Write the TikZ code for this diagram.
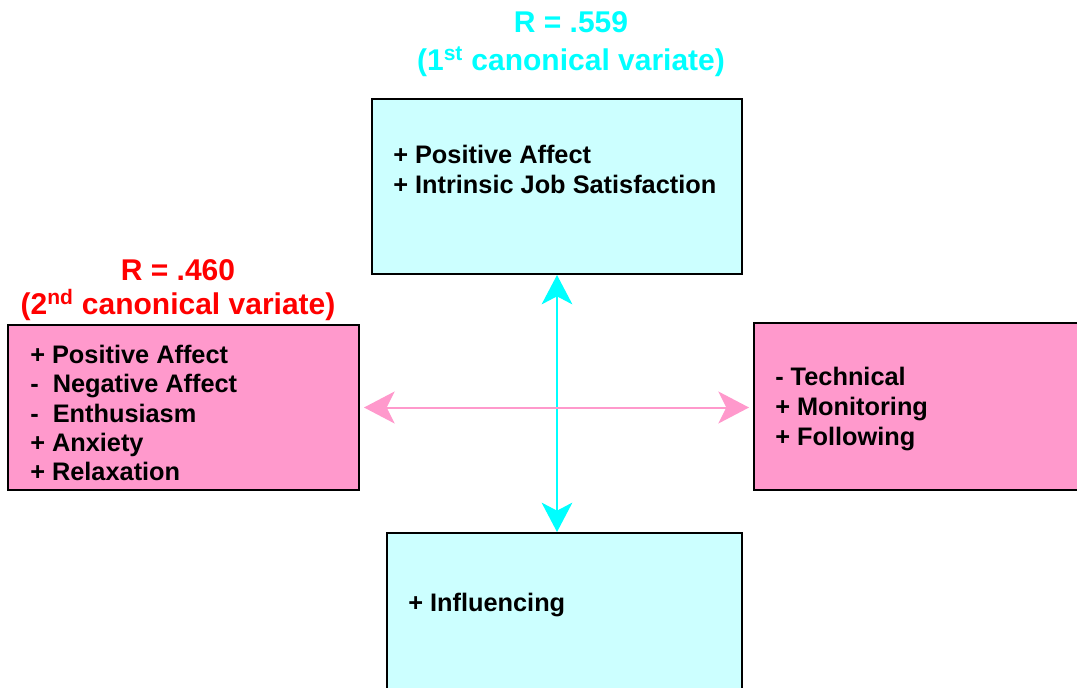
\documentclass[tikz,border=0pt]{standalone}
\usepackage{fontspec}
\setmainfont{Liberation Sans}
\usetikzlibrary{arrows.meta,fit,positioning}

\definecolor{boxcyan}{HTML}{CCFFFF}
\definecolor{boxpink}{HTML}{FF99CC}
\definecolor{titlecyan}{HTML}{00FFFF}
\definecolor{titlered}{HTML}{FF0000}

\tikzset{
    cyanbox/.style={draw=black, line width=1.5pt, fill=boxcyan, inner sep=0pt},
    pinkbox/.style={draw=black, line width=1.5pt, fill=boxpink, inner sep=0pt},
    items/.style={anchor=west, align=left, inner sep=0pt,
        font=\fontsize{19}{22.5}\selectfont\bfseries},
    title/.style={align=center, inner sep=0pt,
        font=\fontsize{22.5}{28}\selectfont\bfseries},
    cyanlink/.style={draw=titlecyan, line width=1.8pt,
        {Stealth[length=22pt, width=23pt, inset=6pt]}-{Stealth[length=22pt, width=23pt, inset=6pt]}},
    pinklink/.style={draw=boxpink, line width=1.5pt,
        {Stealth[length=23pt, width=24pt, inset=6pt]}-{Stealth[length=23pt, width=24pt, inset=6pt]}}
}

\begin{document}
\begin{tikzpicture}[x=0.75pt, y=-0.75pt]
    \useasboundingbox (0, 0) rectangle (1077, 688);
    \clip (0, 0) rectangle (1077, 688);

    % The boxes
    \node[cyanbox, fit={(372, 99) (742, 274)}] (cyanTop) {};
    \node[cyanbox, fit={(387, 533) (742, 720)}] (cyanBottom) {};
    \node[pinkbox, fit={(8, 325) (359, 490)}] (pinkLeft) {};
    \node[pinkbox, fit={(754, 323) (1090, 490)}] (pinkRight) {};

    % The contents of the boxes
    \node[items] (topItems) at (393, 169) {+ Positive Affect\\+ Intrinsic Job Satisfaction};
    \node[items] (bottomItems) at (408, 605) {+ Influencing};
    \node[items, font=\fontsize{19}{22}\selectfont\bfseries] (leftItems) at (30, 413)
        {+ Positive Affect\\-\ \ Negative Affect\\-\ \ Enthusiasm\\+ Anxiety\\+ Relaxation};
    \node[items] (rightItems) at (775, 409) {- Technical\\+ Monitoring\\+ Following};

    % The correlations
    \node[title, text=titlecyan, font=\fontsize{22.5}{29}\selectfont\bfseries] (firstR) at (571, 44)
        {R = .559\\(1\textsuperscript{st} canonical variate)};
    \node[title, text=titlered, font=\fontsize{22.5}{25.5}\selectfont\bfseries] (secondR) at (178, 290)
        {R = .460\\(2\textsuperscript{nd} canonical variate)};

    % The links
    \draw[cyanlink] (cyanTop.south) -- (cyanTop.south |- cyanBottom.north);
    \draw[pinklink, shorten <=3pt, shorten >=3pt] (pinkLeft.east) -- (pinkRight.west |- pinkLeft.east);
\end{tikzpicture}
\end{document}
